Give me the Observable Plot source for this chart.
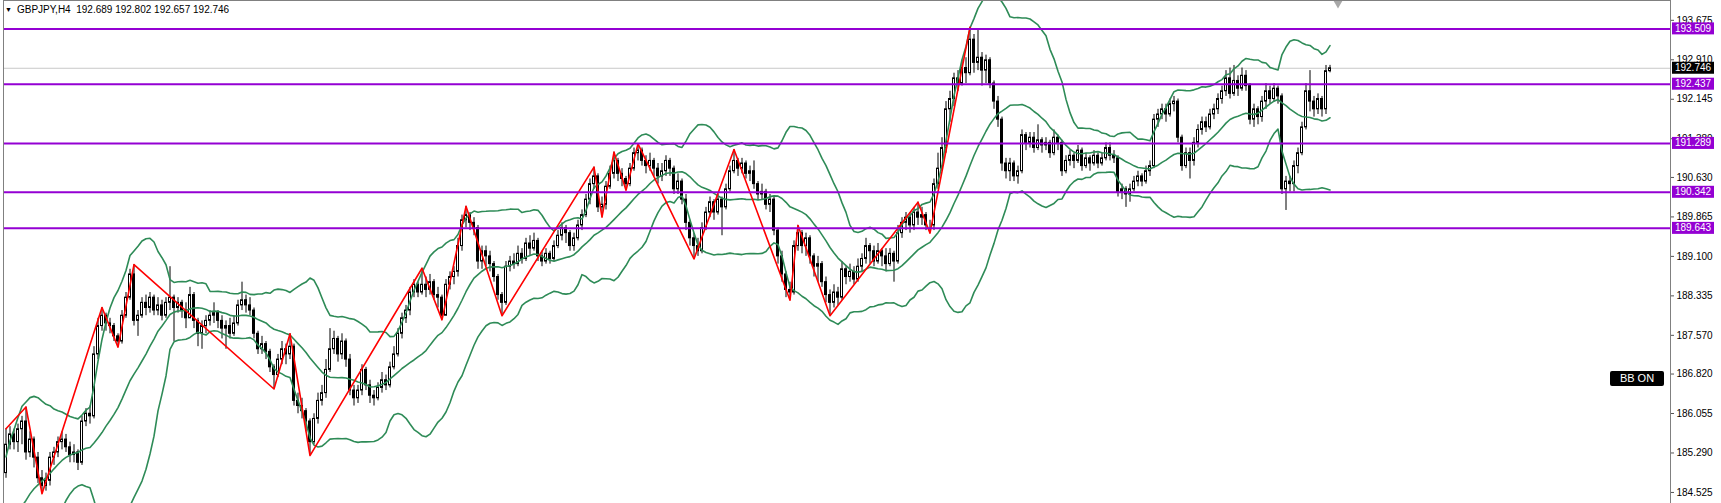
<!DOCTYPE html>
<html>
<head>
<meta charset="utf-8">
<script src="https://cdn.jsdelivr.net/npm/d3@7"></script>
<script src="https://cdn.jsdelivr.net/npm/@observablehq/plot@0.6"></script>
<style>
  html, body { margin: 0; padding: 0; background: #fff; }
  #wrap { position: relative; width: 1721px; height: 503px; overflow: hidden; font-family: "Liberation Sans", Arial, sans-serif; }
  #title { position: absolute; left: 5px; top: 4px; font-size: 10px; color: #000; white-space: pre; }
  #title .tri { font-size: 7px; position: relative; top: -1px; margin-right: 5px; }
  #bbon { position: absolute; left: 1610px; top: 371px; width: 54px; height: 15px; background: #000; color: #fff;
          border-radius: 2px; font-size: 11px; line-height: 15px; text-align: center; }
</style>
</head>
<body>
<div id="wrap">
  <div id="chart"></div>
  <div id="title"><span class="tri">▼</span>GBPJPY,H4  192.689 192.802 192.657 192.746</div>
  <div id="bbon">BB ON</div>
</div>
<script>
// ---------- data ----------
const symbol = "GBPJPY,H4";
// closes of the 19 H4 bars before the first visible bar (needed for the 20-bar bands)
const preClose = [182.9,182.8,183.0,182.9,183.1,183.0,183.2,183.3,183.2,183.4,183.6,183.5,183.8,184.0,184.2,184.4,184.6,184.75,184.9];

const close = [
185.45,185.65,185.5,185.75,185.9,185.3,185.55,185.2,184.8,184.65,
184.75,185.2,185.3,185.5,185.55,185.4,185.25,185.3,185.1,185.9,
186.05,186.0,187.2,187.75,187.95,187.8,187.75,187.55,187.45,187.95,
188.3,188.75,187.85,187.95,188.2,188.1,188.3,188.05,188.15,187.95,
188.2,188.3,188.1,188.2,188.05,187.9,188.35,187.85,187.6,187.75,
187.85,187.95,188.0,187.85,187.7,187.75,187.6,187.8,188.15,188.25,
188.15,188.05,187.6,187.3,187.4,187.25,186.95,186.8,187.1,187.3,
187.2,187.35,186.3,186.2,186.1,185.9,185.5,185.95,186.3,186.45,
186.9,187.3,187.5,187.2,187.45,187.1,186.5,186.35,186.5,186.9,
186.6,186.4,186.35,186.55,186.7,186.6,186.95,187.2,187.6,187.9,
188.05,188.4,188.55,188.4,188.55,188.45,188.6,188.35,188.3,187.95,
188.55,188.7,188.8,189.3,189.8,189.9,189.75,189.65,189.0,189.2,
189.1,188.95,188.7,188.35,188.2,188.9,189.0,188.95,189.15,189.05,
189.35,189.25,189.4,189.1,189.0,189.15,189.05,189.3,189.5,189.65,
189.55,189.3,189.45,189.7,189.9,190.2,190.5,190.65,190.05,190.1,
190.45,190.7,190.95,190.7,190.6,190.5,190.8,191.1,191.15,190.95,
190.85,190.95,190.8,190.65,190.75,190.95,190.8,190.4,190.55,190.2,
189.75,189.45,189.3,189.2,189.65,189.95,190.15,189.95,190.2,190.05,
190.4,190.75,190.95,190.8,190.9,190.7,190.75,190.5,190.3,190.35,
190.1,190.2,189.6,189.1,188.75,188.45,188.4,189.3,189.55,189.3,
189.45,189.1,188.9,188.95,188.6,188.35,188.2,188.4,188.3,188.85,
188.7,188.8,188.65,188.9,189.05,189.3,189.2,189.0,189.2,189.1,
188.95,189.15,189.0,189.55,189.75,189.85,189.7,189.95,189.85,189.9,
189.7,189.7,190.5,190.8,191.2,191.95,192.15,192.55,192.45,192.75,
192.65,193.3,192.85,192.95,192.7,192.9,192.45,192.1,191.75,190.9,
190.75,190.9,190.65,190.75,191.45,191.3,191.4,191.2,191.35,191.25,
191.3,191.1,191.4,191.3,190.75,190.95,191.05,190.95,191.15,190.85,
191.0,190.9,191.05,190.9,191.0,191.2,191.05,191.0,190.35,190.4,
190.3,190.4,190.55,190.65,190.55,190.75,190.85,191.75,191.85,191.95,
191.85,192.05,192.1,191.4,190.85,191.1,190.95,191.3,191.55,191.7,
191.6,191.85,191.95,192.15,192.3,192.55,192.25,192.5,192.35,192.6,
192.4,191.75,191.95,191.8,192.1,192.3,192.15,192.35,192.2,190.4,
190.55,190.5,190.85,191.1,191.6,192.3,192.1,191.95,192.15,191.95,
192.689,192.746];

const high = [
185.76,185.8,185.75,185.85,186.0,186.18,185.7,185.6,185.3,184.95,
184.9,185.3,185.4,185.6,185.7,185.65,185.5,185.45,185.35,186.0,
186.15,186.2,187.35,187.9,188.11,188.0,187.9,187.8,187.6,188.05,
188.4,188.85,188.94,188.05,188.3,188.35,188.4,188.35,188.3,188.25,
188.3,188.9,188.35,188.3,188.25,188.2,188.5,188.4,187.9,187.85,
187.95,188.05,188.2,188.05,187.95,187.85,187.9,187.95,188.25,188.6,
188.35,188.3,188.1,187.65,187.55,187.45,187.3,187.0,187.2,187.45,
187.4,187.6,187.4,186.45,186.35,186.15,185.95,186.05,186.45,186.6,
187.1,187.7,187.65,187.55,187.6,187.5,187.2,186.6,186.6,187.0,
186.95,186.7,186.5,186.65,186.85,186.8,187.05,187.35,187.7,188.0,
188.15,188.5,188.65,188.6,188.87,188.7,188.75,188.65,188.5,188.35,
188.65,188.8,188.9,189.45,189.9,190.07,189.95,189.85,189.7,189.3,
189.3,189.2,189.0,188.75,188.4,189.0,189.1,189.15,189.3,189.25,
189.45,189.5,189.55,189.45,189.2,189.25,189.2,189.4,189.6,189.75,
189.7,189.6,189.55,189.8,190.0,190.3,190.6,190.83,190.7,190.25,
190.55,190.85,191.12,191.0,190.8,190.65,190.9,191.2,191.28,191.2,
191.05,191.1,191.0,190.9,190.9,191.05,191.0,190.85,190.7,190.6,
190.3,189.8,189.55,189.45,189.75,190.05,190.25,190.2,190.3,190.25,
190.5,190.85,191.17,191.0,191.0,190.95,190.85,190.95,190.55,190.5,
190.4,190.3,190.25,189.65,189.2,188.8,188.6,189.4,189.7,189.6,
189.55,189.5,189.15,189.1,189.0,188.7,188.45,188.55,188.5,189.0,
188.9,188.95,188.9,189.05,189.15,189.45,189.35,189.3,189.35,189.25,
189.25,189.25,189.2,189.7,189.85,189.95,189.95,190.05,190.15,190.05,
189.95,189.8,190.6,191.1,191.4,192.1,192.3,192.65,192.7,192.9,
192.95,193.54,193.4,193.5,193.05,193.0,192.95,192.5,192.2,191.8,
191.0,191.0,190.95,190.85,191.55,191.5,191.5,191.5,191.65,191.4,
191.4,191.35,191.55,191.45,191.35,191.05,191.15,191.1,191.25,191.2,
191.1,191.05,191.15,191.1,191.1,191.3,191.3,191.15,191.05,190.5,
190.45,190.5,190.65,190.75,190.7,190.85,190.95,191.85,191.95,192.05,
192.05,192.15,192.2,192.15,191.45,191.2,191.2,191.4,191.65,191.8,
191.8,191.95,192.05,192.25,192.4,192.7,192.75,192.8,192.6,192.75,
192.7,192.45,192.05,192.0,192.2,192.45,192.4,192.45,192.4,192.25,
190.65,190.65,190.95,191.2,191.7,192.45,192.7,192.2,192.25,192.2,
192.8,192.802];

const low = [
184.8,185.35,185.35,185.3,185.45,185.15,185.2,185.0,184.7,184.5,
184.55,184.65,185.05,185.2,185.35,185.3,185.1,185.1,184.95,185.05,
185.8,185.85,185.95,187.1,187.65,187.65,187.6,187.45,187.34,187.4,
187.9,188.25,187.75,187.55,187.9,187.95,188.0,187.95,187.95,187.85,
187.9,188.05,187.45,188.0,187.9,187.7,187.9,187.7,187.35,187.3,
187.6,187.75,187.8,187.7,187.5,187.3,187.5,187.55,187.75,188.05,
188.0,187.95,187.5,187.2,187.2,187.1,186.85,186.53,186.75,187.0,
187.0,187.1,186.2,186.05,185.95,185.7,185.24,185.45,185.85,186.2,
186.35,186.85,187.2,187.05,187.1,186.95,186.4,186.2,186.25,186.4,
186.5,186.25,186.2,186.3,186.45,186.5,186.55,186.9,187.15,187.5,
187.8,187.95,188.3,188.3,188.35,188.3,188.35,188.25,188.1,187.87,
187.95,188.45,188.55,188.7,189.2,189.65,189.6,189.5,188.85,188.85,
188.9,188.8,188.6,188.25,187.95,188.15,188.8,188.85,188.9,188.95,
189.0,189.1,189.2,189.0,188.9,188.95,188.95,189.0,189.25,189.4,
189.35,189.2,189.2,189.4,189.6,189.85,190.1,190.4,189.95,189.86,
190.0,190.4,190.6,190.55,190.45,190.38,190.45,190.75,190.95,190.85,
190.7,190.75,190.65,190.5,190.55,190.65,190.65,190.3,190.3,190.1,
189.6,189.3,189.05,189.1,189.15,189.6,189.85,189.8,189.9,189.5,
190.0,190.35,190.7,190.65,190.7,190.6,190.55,190.4,190.2,190.2,
190.0,189.95,189.5,188.95,188.6,188.3,188.25,188.35,189.2,189.15,
189.1,188.95,188.7,188.6,188.5,188.2,187.95,188.1,188.15,188.25,
188.55,188.6,188.55,188.6,188.8,188.95,188.95,188.9,188.95,188.9,
188.8,188.9,188.6,188.95,189.45,189.6,189.55,189.6,189.7,189.7,
189.6,189.55,189.6,190.4,190.75,191.1,191.7,192.0,192.3,192.4,
192.45,192.6,192.65,192.7,192.4,192.45,192.35,191.95,191.6,190.75,
190.6,190.55,190.55,190.5,190.7,191.15,191.2,191.1,191.15,191.1,
191.15,191.0,191.05,191.15,190.65,190.7,190.85,190.8,190.9,190.75,
190.8,190.75,190.85,190.8,190.85,190.95,190.95,190.9,190.25,190.2,
190.05,190.15,190.35,190.45,190.45,190.5,190.65,190.8,191.6,191.75,
191.7,191.8,191.9,191.3,190.75,190.8,190.6,190.85,191.2,191.45,
191.5,191.55,191.75,191.85,192.05,192.2,192.15,192.2,192.2,192.3,
192.3,191.65,191.6,191.65,191.7,191.95,192.05,192.1,192.05,190.3,
189.99,190.35,190.35,190.7,191.05,191.55,191.9,191.8,191.85,191.8,
191.85,192.657];

// ZigZag swing points (bar index, price)
const zzBar   = [0,5,9,24,28,32,67,71,76,104,109,115,124,147,149,152,155,158,172,182,196,198,206,228,231,241];
const zzPrice = [185.76,186.18,184.50,188.11,187.34,188.94,186.53,187.60,185.24,188.87,187.87,190.07,187.95,190.83,189.86,191.12,190.38,191.28,189.05,191.17,188.25,189.70,187.95,190.15,189.55,193.54];

// horizontal levels
const levels = [193.509, 192.437, 191.289, 190.342, 189.643];
const bid = 192.746;
// price-scale ticks
const ticks = [193.675,192.910,192.145,191.380,190.630,189.865,189.100,188.335,187.570,186.820,186.055,185.290,184.525];
const shiftBar = 333;
const bbPeriod = 20, bbDev = 2;

// ---------- build tables ----------
const allClose = preClose.concat(close);
const bars = close.map((c, i) => {
  const o = i === 0 ? preClose[preClose.length - 1] : close[i - 1];
  return {i, o, c, h: Math.max(high[i], o, c), l: Math.min(low[i], o, c), up: c >= o};
});
const bb = [];
for (let k = bbPeriod - 1; k < allClose.length; k++) {
  const w = allClose.slice(k - bbPeriod + 1, k + 1);
  const m = d3.mean(w);
  const sd = Math.sqrt(d3.mean(w, v => (v - m) ** 2));
  bb.push({i: k - preClose.length, mid: m, up: m + bbDev * sd, lo: m - bbDev * sd});
}
const zz = zzBar.map((b, k) => ({i: b, p: zzPrice[k]}));

const violet = "#9400d3";
const green = "#2e8b57";

const chart = Plot.plot({
  width: 1721, height: 503,
  marginLeft: 3, marginRight: 51, marginTop: 0, marginBottom: 0,
  x: {domain: [-0.625, 416.125], axis: null},
  y: {domain: [184.311, 194.059], axis: null},
  style: {background: "#fff", fontFamily: "'Liberation Sans', Arial, sans-serif", fontSize: "10px", color: "#000"},
  marks: [
    Plot.ruleY([bid], {stroke: "#c8c8c8", strokeWidth: 1}),
    Plot.ruleX(bars, {x: "i", y1: "l", y2: "h", stroke: "#000", strokeWidth: 1, clip: true}),
    Plot.rect(bars, {x1: d => d.i - 0.25, x2: d => d.i + 0.25, y1: "o", y2: "c",
      fill: d => d.up ? "#fff" : "#000", stroke: "#000", strokeWidth: 1, clip: true}),
    Plot.line(bb, {x: "i", y: "up", stroke: green, strokeWidth: 1.6, clip: true}),
    Plot.line(bb, {x: "i", y: "mid", stroke: green, strokeWidth: 1.6, clip: true}),
    Plot.line(bb, {x: "i", y: "lo", stroke: green, strokeWidth: 1.6, clip: true}),
    Plot.line(zz, {x: "i", y: "p", stroke: "#ff0000", strokeWidth: 1.6, clip: true}),
    Plot.ruleY(levels, {stroke: violet, strokeWidth: 2}),
    Plot.dot([shiftBar], {x: d => d, frameAnchor: "top", dy: 3, symbol: "triangle", rotate: 180, r: 3.2, fill: "#a8a8a8", stroke: "none"}),
    Plot.frame({stroke: "#808080"}),
    Plot.axisY(ticks, {anchor: "right", tickSize: 3, tickPadding: 3, tickFormat: d => d.toFixed(3), stroke: "#555", fill: "#000"})
  ]
});
document.getElementById("chart").appendChild(chart);

// price labels on the scale, placed with Plot's own y scale
const yS = chart.scale("y");
const xRight = 1721 - 51;
const svg = d3.select(chart);
const tags = levels.map(v => ({v, bg: violet})).concat([{v: bid, bg: "#000"}]);
const g = svg.append("g").attr("font-family", "'Liberation Sans', Arial, sans-serif").attr("font-size", 10);
tags.forEach(t => {
  const yy = yS.apply(t.v);
  g.append("rect").attr("x", xRight + 2).attr("y", yy - 6).attr("width", 42).attr("height", 12).attr("fill", t.bg);
  g.append("text").attr("x", xRight + 23).attr("y", yy).attr("dy", "0.35em").attr("text-anchor", "middle")
    .attr("fill", "#fff").text(t.v.toFixed(3));
});
</script>
</body>
</html>
